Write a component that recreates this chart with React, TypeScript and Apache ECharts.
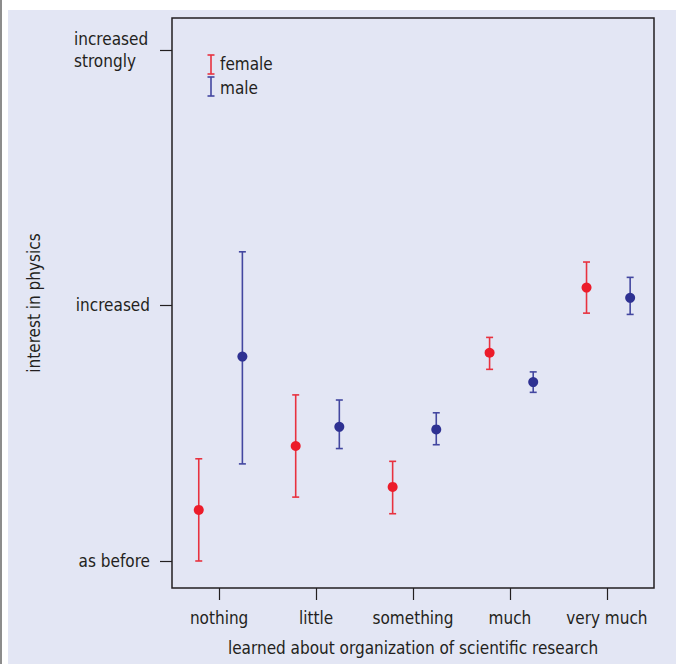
import React, { useEffect, useRef } from "react";
import * as echarts from "echarts";

const categories = ["nothing", "little", "something", "much", "very much"];
const yTickValues = [0, 1, 2];
const yTickLabels = ["as before", "increased", "increased\nstrongly"];

const femaleMean = [0.20, 0.45, 0.29, 0.815, 1.07];
const femaleLow = [0.0, 0.25, 0.185, 0.75, 0.97];
const femaleHigh = [0.40, 0.65, 0.39, 0.875, 1.17];

const maleMean = [0.80, 0.525, 0.515, 0.70, 1.03];
const maleLow = [0.38, 0.44, 0.455, 0.66, 0.965];
const maleHigh = [1.21, 0.63, 0.58, 0.74, 1.11];

const xTitle = "learned about organization of scientific research";
const yTitle = "interest in physics";
const legendNames = ["female", "male"];

const RED = "#ec1c2a";
const RED_BAR = "#e8323f";
const BLUE = "#2e3192";
const BLUE_BAR = "#4347a0";
const FONT = '"Liberation Sans Narrow", "DejaVu Sans Condensed", "Roboto", sans-serif';
const TXT = "#231f20";
const FS = 17;

function errorBarSeries(name: string, offset: number, mean: number[], low: number[], high: number[], color: string) {
  return {
    name,
    type: "custom",
    z: 3,
    data: mean.map((m, i) => [i + offset, low[i], high[i]]),
    renderItem: (params: any, api: any) => {
      const x = api.value(0);
      const top = api.coord([x, api.value(2)]);
      const bot = api.coord([x, api.value(1)]);
      const cap = 3.5;
      const style = { stroke: color, lineWidth: 1.6 };
      return {
        type: "group",
        children: [
          { type: "line", shape: { x1: top[0], y1: top[1], x2: bot[0], y2: bot[1] }, style },
          { type: "line", shape: { x1: top[0] - cap, y1: top[1], x2: top[0] + cap, y2: top[1] }, style },
          { type: "line", shape: { x1: bot[0] - cap, y1: bot[1], x2: bot[0] + cap, y2: bot[1] }, style },
        ],
      };
    },
  };
}

export default function App() {
  const ref = useRef<HTMLDivElement>(null);
  useEffect(() => {
    if (!ref.current) return;
    const chart = echarts.init(ref.current, null, { renderer: "svg" });
    const fOff = -0.21;
    const mOff = 0.24;
    chart.setOption({
      animation: false,
      backgroundColor: "#ffffff",
      textStyle: { fontFamily: FONT },
      grid: {
        left: 172,
        top: 18,
        width: 482,
        height: 570,
        show: true,
        borderColor: "#231f20",
        borderWidth: 1.5,
        backgroundColor: "transparent",
        containLabel: false,
      },
      xAxis: {
        type: "value",
        min: -0.486,
        max: 4.486,
        splitLine: { show: false },
        axisLine: { show: false, onZero: false },
        axisTick: { show: true, customValues: [0, 1, 2, 3, 4], length: 12, lineStyle: { color: "#231f20", width: 1.2 } },
        axisLabel: {
          customValues: [0, 1, 2, 3, 4],
          formatter: (v: number) => categories[Math.round(v)] ?? "",
          margin: 21,
          fontSize: FS,
          color: TXT,
          fontFamily: FONT,
        },
        name: xTitle,
        nameLocation: "middle",
        nameGap: 51,
        nameTextStyle: { fontSize: FS, color: TXT, fontFamily: FONT },
      },
      yAxis: {
        type: "value",
        min: -0.1057,
        max: 2.125,
        splitLine: { show: false },
        axisLine: { show: false, onZero: false },
        axisTick: { show: true, customValues: yTickValues, length: 12, lineStyle: { color: "#231f20", width: 1.2 } },
        axisLabel: {
          customValues: yTickValues,
          formatter: (v: number) => {
            const lab = yTickLabels[yTickValues.indexOf(Math.round(v))] ?? "";
            if (lab.includes("\n")) return lab.split("\n").map((s) => `{a|${s}}`).join("\n");
            return lab;
          },
          margin: 22,
          fontSize: FS,
          color: TXT,
          fontFamily: FONT,
          rich: { a: { width: 76, align: "left", fontSize: FS, color: TXT, fontFamily: FONT, lineHeight: 22 } },
        },
        name: yTitle,
        nameLocation: "middle",
        nameGap: 130,
        nameRotate: 90,
        nameTextStyle: { fontSize: FS, color: TXT, fontFamily: FONT },
      },
      graphic: [
        { type: "rect", z: -100, silent: true, shape: { x: 8, y: 10, width: 668, height: 654 }, style: { fill: "#e3e6f4" } },
        { type: "rect", z: -100, silent: true, shape: { x: 0, y: 0, width: 2, height: 664 }, style: { fill: "#8c8c8c" } },
        { type: "line", shape: { x1: 211, y1: 55, x2: 211, y2: 74 }, style: { stroke: RED_BAR, lineWidth: 1.6 } },
        { type: "line", shape: { x1: 207.5, y1: 55, x2: 214.5, y2: 55 }, style: { stroke: RED_BAR, lineWidth: 1.6 } },
        { type: "line", shape: { x1: 207.5, y1: 74, x2: 214.5, y2: 74 }, style: { stroke: RED_BAR, lineWidth: 1.6 } },
        { type: "line", shape: { x1: 211, y1: 77, x2: 211, y2: 96 }, style: { stroke: BLUE_BAR, lineWidth: 1.6 } },
        { type: "line", shape: { x1: 207.5, y1: 77, x2: 214.5, y2: 77 }, style: { stroke: BLUE_BAR, lineWidth: 1.6 } },
        { type: "line", shape: { x1: 207.5, y1: 96, x2: 214.5, y2: 96 }, style: { stroke: BLUE_BAR, lineWidth: 1.6 } },
        { type: "text", x: 220, y: 64, style: { text: legendNames[0], fontSize: FS, fill: TXT, fontFamily: FONT, verticalAlign: "middle" } },
        { type: "text", x: 220, y: 88, style: { text: legendNames[1], fontSize: FS, fill: TXT, fontFamily: FONT, verticalAlign: "middle" } },
      ],
      series: [
        errorBarSeries("female-err", fOff, femaleMean, femaleLow, femaleHigh, RED_BAR),
        errorBarSeries("male-err", mOff, maleMean, maleLow, maleHigh, BLUE_BAR),
        {
          name: "female",
          type: "scatter",
          z: 4,
          symbol: "circle",
          symbolSize: 10,
          itemStyle: { color: RED, opacity: 1 },
          data: femaleMean.map((m, i) => [i + fOff, m]),
        },
        {
          name: "male",
          type: "scatter",
          z: 4,
          symbol: "circle",
          symbolSize: 10,
          itemStyle: { color: BLUE, opacity: 1 },
          data: maleMean.map((m, i) => [i + mOff, m]),
        },
      ],
    });
    return () => chart.dispose();
  }, []);
  return (
    <div style={{ position: "absolute", left: 0, top: 0, width: 676, height: 664 }}>
      <div ref={ref} style={{ width: 676, height: 664 }} />
    </div>
  );
}
